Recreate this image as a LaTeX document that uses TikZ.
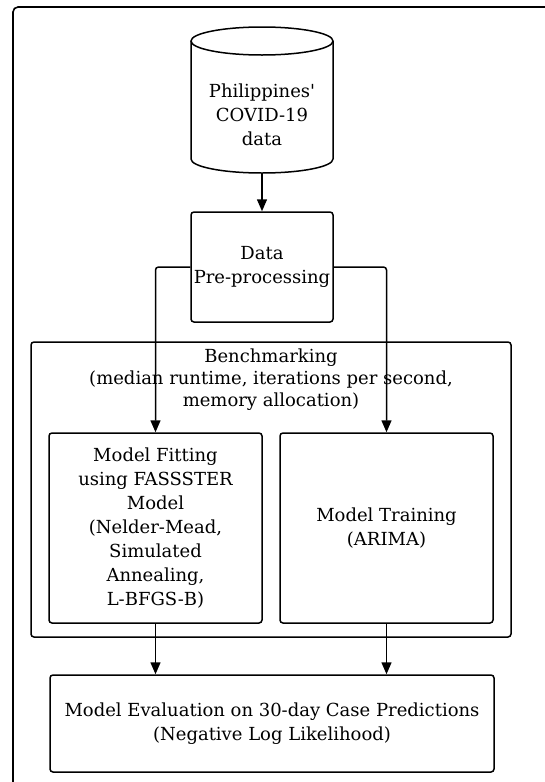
\documentclass[tikz,border=0pt]{standalone}
\usepackage{fontspec}
\setmainfont{DejaVu Serif}
\usetikzlibrary{arrows.meta}
\tikzset{
  box/.style={draw, line width=1.5pt, rounded corners=3pt, align=center, inner sep=0pt},
  arr/.style={line width=1.5pt, -{Triangle[length=12pt,width=10pt]}},
  txt/.style={align=center, inner sep=0pt},
}
\begin{document}
\begin{tikzpicture}[x=1pt,y=-1pt,font=\fontsize{18}{24}\selectfont]
\useasboundingbox (0,0) rectangle (545,782);
\fill[white] (0,0) rectangle (545,782);
\begin{scope}
\clip (0,0) rectangle (545,782);
\draw[line width=1.6pt, rounded corners=5pt] (13,7) rectangle (580,820);
\end{scope}
% cylinder
\draw[line width=1.5pt, fill=white] (191,41) -- (191,159) arc[start angle=180,end angle=360,x radius=71pt,y radius=14pt] -- (333,41);
\draw[line width=1.5pt] (262,41) ellipse [x radius=71pt, y radius=14pt];
\node[txt, minimum width=142pt, minimum height=146pt] (data) at (262,100) {};
\node[txt] (datatext) at (262,115) {Philippines\textquotesingle\\COVID-19\\data};
% pre-processing
\node[box, minimum width=142pt, minimum height=110pt] (pre) at (262,267) {Data\\Pre-processing};
% benchmarking
\node[box, minimum width=480pt, minimum height=295pt] (bench) at (271,489.5) {};
\node[txt, font=\fontsize{18}{22}\selectfont] (benchtext) at (271,380) {Benchmarking\\(median runtime, iterations per second,\\memory allocation)};
% inner boxes
\node[box, minimum width=213pt, minimum height=190pt] (fit) at (155.5,528) {Model Fitting\\using FASSSTER\\Model\\(Nelder-Mead,\\Simulated\\Annealing,\\L-BFGS-B)};
\node[box, minimum width=213pt, minimum height=190pt] (train) at (386.5,528) {Model Training\\(ARIMA)};
% evaluation
\node[box, minimum width=444pt, minimum height=97pt] (eval) at (272,723.5) {Model Evaluation on 30-day Case Predictions\\(Negative Log Likelihood)};
% connectors
\coordinate (cylbot) at (262,173);
\draw[arr] (cylbot) -- (pre.north);
\draw[arr, rounded corners=3pt] (pre.west) -| (fit.north);
\draw[arr, rounded corners=3pt] (pre.east) -| (train.north);
\draw[arr] (fit.south) -- (fit.south |- eval.north);
\draw[arr] (train.south) -- (train.south |- eval.north);
\end{tikzpicture}
\end{document}
